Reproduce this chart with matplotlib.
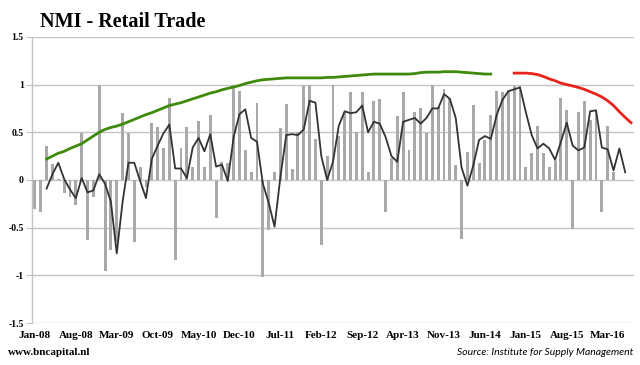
import matplotlib
matplotlib.use("Agg")
import matplotlib.pyplot as plt
import numpy as np

month_names = ["Jan", "Feb", "Mar", "Apr", "May", "Jun", "Jul", "Aug", "Sep", "Oct", "Nov", "Dec"]
categories = [f"{m}-{y:02d}" for y in range(8, 17) for m in month_names][:103]  # Jan-08 .. Jul-16

# Monthly bars (Jan-08 .. Apr-16)
bar_values = [
    -0.30, -0.34, 0.36, 0.17, 0.01, -0.14, -0.18, -0.26, 0.49, -0.63,
    -0.18, 1.00, -0.95, -0.73, -0.65, 0.70, 0.49, -0.65, 0.14, -0.07,
    0.60, 0.55, 0.33, 0.86, -0.84, 0.33, 0.56, 0.14, 0.62, 0.14,
    0.68, -0.40, 0.19, 0.18, 0.97, 0.93, 0.31, 0.08, 0.81, -1.02,
    -0.52, 0.08, 0.54, 0.80, 0.11, 0.50, 0.99, 1.00, 0.43, -0.68,
    0.25, 1.00, 0.46, 0.71, 0.92, 0.50, 0.92, 0.08, 0.83, 0.85,
    -0.34, 0.23, 0.67, 0.92, 0.31, 0.71, 0.75, 0.49, 1.00, 0.76,
    0.95, 0.85, 0.16, -0.62, 0.29, 0.79, 0.18, 0.42, 0.68, 0.93,
    0.92, 0.94, 0.99, 0.99, 0.14, 0.28, 0.57, 0.28, 0.14, 0.20,
    0.86, 0.73, -0.51, 0.71, 0.83, 0.63, 0.73, -0.34, 0.57, 0.08,
]

# Black line (Mar-08 .. Jun-16)
black_start = "Mar-08"
black_values = [
    -0.09, 0.06, 0.18, 0.01, -0.10, -0.19, 0.02, -0.13, -0.11, 0.06,
    -0.04, -0.23, -0.77, -0.23, 0.18, 0.18, -0.01, -0.19, 0.22, 0.36,
    0.49, 0.58, 0.12, 0.12, 0.02, 0.34, 0.44, 0.30, 0.48, 0.14,
    0.16, -0.01, 0.45, 0.69, 0.74, 0.44, 0.40, -0.04, -0.24, -0.49,
    0.03, 0.47, 0.48, 0.47, 0.53, 0.83, 0.81, 0.25, 0.00, 0.19,
    0.57, 0.72, 0.70, 0.71, 0.78, 0.50, 0.61, 0.59, 0.45, 0.25,
    0.19, 0.61, 0.63, 0.65, 0.59, 0.65, 0.75, 0.75, 0.90, 0.85,
    0.65, 0.13, -0.06, 0.15, 0.42, 0.46, 0.43, 0.68, 0.84, 0.93,
    0.95, 0.97, 0.71, 0.47, 0.33, 0.38, 0.33, 0.21, 0.40, 0.60,
    0.36, 0.31, 0.34, 0.72, 0.73, 0.34, 0.32, 0.10, 0.33, 0.08,
]

# Green line (Mar-08 .. Jul-14)
green_start = "Mar-08"
green_values = [
    0.22, 0.25, 0.28, 0.30, 0.33, 0.355, 0.38, 0.42, 0.46, 0.50,
    0.53, 0.55, 0.565, 0.585, 0.61, 0.635, 0.66, 0.685, 0.705, 0.73,
    0.755, 0.78, 0.795, 0.81, 0.83, 0.85, 0.87, 0.89, 0.91, 0.925,
    0.945, 0.96, 0.975, 0.99, 1.01, 1.025, 1.04, 1.05, 1.055, 1.06,
    1.065, 1.07, 1.07, 1.07, 1.07, 1.07, 1.07, 1.07, 1.075, 1.075,
    1.08, 1.085, 1.09, 1.095, 1.10, 1.105, 1.11, 1.11, 1.11, 1.11,
    1.11, 1.11, 1.11, 1.115, 1.125, 1.13, 1.13, 1.13, 1.135, 1.135,
    1.135, 1.13, 1.125, 1.12, 1.115, 1.11, 1.11,
]

# Red line (Nov-14 .. Jul-16)
red_start = "Nov-14"
red_values = [
    1.12, 1.12, 1.12, 1.115, 1.105, 1.085, 1.06, 1.04, 1.015, 1.0,
    0.985, 0.97, 0.95, 0.925, 0.90, 0.87, 0.83, 0.78, 0.715, 0.655, 0.60,
]

y_ticks = [-1.5, -1, -0.5, 0, 0.5, 1, 1.5]
y_tick_labels = ["-1.5", "-1", "-0.5", "0", "0.5", "1", "1.5"]
title = "NMI - Retail Trade"
footer_left = "www.bncapital.nl"
footer_right = "Source: Institute for Supply Management"

fig = plt.figure(figsize=(6.4, 3.65), dpi=100)
ax = fig.add_axes([0.05, 0.115, 0.9406, 0.784])

x_all = np.arange(len(categories))
ax.bar(x_all[:len(bar_values)], bar_values, width=0.5, color="#a9a9a9", zorder=2)

def xs(start, values):
    s = categories.index(start)
    return np.arange(s, s + len(values))

ax.plot(xs(black_start, black_values), black_values, color="#333333", lw=1.3, zorder=3)
ax.plot(xs(green_start, green_values), green_values, color="#3f8a0c", lw=2.0, zorder=3)
ax.plot(xs(red_start, red_values), red_values, color="#e8241c", lw=2.0, zorder=3)

ax.set_xlim(-0.5, len(categories) - 0.5)
ax.set_ylim(-1.5, 1.5)
ax.set_yticks(y_ticks)
ax.set_yticklabels(y_tick_labels, fontfamily="Liberation Serif", fontweight="bold", fontsize=7)
ax.yaxis.grid(True, color="#c4c4c4", lw=1.0, zorder=0)
ax.set_axisbelow(True)

tick_pos = x_all[::7]
ax.set_xticks(tick_pos)
ax.set_xticklabels([categories[i] for i in tick_pos], fontfamily="Liberation Serif",
                   fontweight="bold", fontsize=8)
ax.tick_params(axis="x", length=0, pad=6)
ax.tick_params(axis="y", length=4, color="#c4c4c4", pad=2)

for s in ["top", "right", "bottom"]:
    ax.spines[s].set_visible(False)
ax.spines["left"].set_color("#c4c4c4")
ax.spines["left"].set_linewidth(1.0)

fig.text(0.062, 0.925, title, fontfamily="Liberation Serif", fontweight="bold", fontsize=14.5,
         ha="left", va="baseline")
fig.text(0.012, 0.028, footer_left, fontfamily="Liberation Serif", fontweight="bold", fontsize=8,
         ha="left", va="baseline")
fig.text(0.99, 0.028, footer_right, fontfamily="Lato", fontstyle="italic", fontsize=7.5,
         ha="right", va="baseline")

fig.savefig("out.png", dpi=100)
